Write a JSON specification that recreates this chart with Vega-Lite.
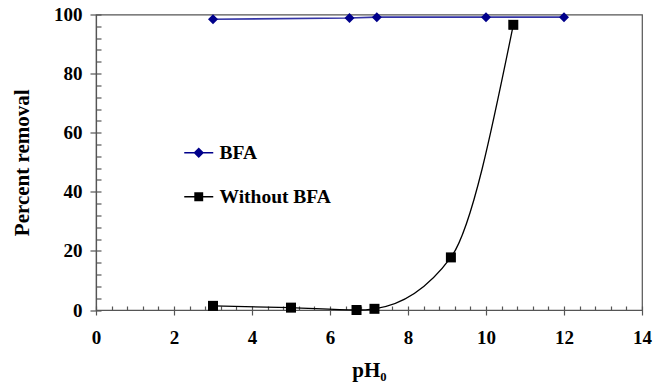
{
  "$schema": "https://vega.github.io/schema/vega-lite/v6.json",
  "width": 546,
  "height": 295.5,
  "autosize": "none",
  "padding": {"left": 96, "top": 14.5, "right": 21, "bottom": 74},
  "background": "white",
  "config": {
    "font": "Liberation Serif",
    "view": {"stroke": "#555555", "strokeWidth": 1.2},
    "axis": {
      "domainColor": "#555555", "tickColor": "#555555", "domainWidth": 1.2, "tickWidth": 1.2,
      "grid": true, "gridColor": "#555555", "gridWidth": 1.2, "gridOpacity": 1
    }
  },
  "data": {
    "values": [
      {"series": "BFA", "ph": 3.0, "removal": 98.4},
      {"series": "BFA", "ph": 6.5, "removal": 98.8},
      {"series": "BFA", "ph": 7.2, "removal": 99.1},
      {"series": "BFA", "ph": 10.0, "removal": 99.1},
      {"series": "BFA", "ph": 12.0, "removal": 99.1},
      {"series": "Without BFA", "ph": 3.0, "removal": 1.4},
      {"series": "Without BFA", "ph": 5.0, "removal": 0.8},
      {"series": "Without BFA", "ph": 6.68, "removal": 0.0},
      {"series": "Without BFA", "ph": 7.14, "removal": 0.4},
      {"series": "Without BFA", "ph": 9.1, "removal": 17.8},
      {"series": "Without BFA", "ph": 10.7, "removal": 96.5}
    ]
  },
  "encoding": {
    "x": {
      "field": "ph", "type": "quantitative",
      "scale": {"domain": [0, 14], "nice": false, "zero": false},
      "axis": {
        "orient": "bottom",
        "values": [0, 0.4, 0.8, 1.2, 1.6, 2, 2.4, 2.8, 3.2, 3.6, 4, 4.4, 4.8, 5.2, 5.6, 6, 6.4, 6.8, 7.2, 7.6, 8, 8.4, 8.8, 9.2, 9.6, 10, 10.4, 10.8, 11.2, 11.6, 12, 12.4, 12.8, 13.2, 13.6, 14],
        "labelExpr": "datum.value % 2 === 0 ? format(datum.value, 'd') : ''",
        "labelOverlap": false,
        "tickSize": 5,
        "tickOpacity": {"condition": {"test": "datum.value % 2 === 0", "value": 1}, "value": 0},
        "gridDash": [4, 291.5],
        "gridDashOffset": 4,
        "labelFont": "Liberation Serif", "labelFontSize": 19, "labelFontWeight": "bold", "labelColor": "black",
        "labelPadding": 13, "labelFlush": false,
        "title": "pH₀", "titleFont": "Liberation Serif", "titleFontSize": 21, "titleFontWeight": "bold", "titleColor": "black",
        "titlePadding": 12
      }
    },
    "y": {
      "field": "removal", "type": "quantitative",
      "scale": {"domain": [0, 100], "nice": false},
      "axis": {
        "orient": "left",
        "values": [0, 4, 8, 12, 16, 20, 24, 28, 32, 36, 40, 44, 48, 52, 56, 60, 64, 68, 72, 76, 80, 84, 88, 92, 96, 100],
        "labelExpr": "datum.value % 20 === 0 ? datum.label : ''",
        "labelOverlap": false,
        "tickSize": 6,
        "tickOpacity": {"condition": {"test": "datum.value % 20 === 0", "value": 1}, "value": 0},
        "gridDash": [5, 1000],
        "labelFont": "Liberation Serif", "labelFontSize": 19, "labelFontWeight": "bold", "labelColor": "black",
        "labelPadding": 8, "labelFlush": false,
        "title": "Percent removal", "titleFont": "Liberation Serif", "titleFontSize": 21, "titleFontWeight": "bold", "titleColor": "black",
        "titlePadding": 21
      }
    }
  },
  "layer": [
    {
      "transform": [{"filter": "datum.series === 'Without BFA'"}],
      "mark": {"type": "line", "interpolate": "monotone", "color": "black", "strokeWidth": 1.3}
    },
    {
      "transform": [{"filter": "datum.series === 'BFA'"}],
      "mark": {"type": "line", "color": "#3434a6", "strokeWidth": 1.6}
    },
    {
      "mark": {"type": "point", "filled": true, "opacity": 1, "size": 100},
      "encoding": {
        "color": {
          "field": "series", "type": "nominal",
          "scale": {"domain": ["BFA", "Without BFA"], "range": ["#00008b", "#000000"]},
          "legend": null
        },
        "shape": {
          "field": "series", "type": "nominal",
          "scale": {"domain": ["BFA", "Without BFA"], "range": ["diamond", "square"]},
          "legend": null
        }
      }
    },
    {
      "mark": {"type": "point", "filled": true, "opacity": 0, "size": 100},
      "encoding": {
        "color": {
          "field": "series", "type": "nominal",
          "scale": {"domain": ["BFA", "Without BFA"], "range": ["#00008b", "#000000"]},
          "legend": {
            "title": null, "orient": "none", "legendX": 93, "legendY": 128.5, "padding": 0, "rowPadding": 23,
            "symbolSize": 100, "symbolOpacity": 1, "symbolStrokeWidth": 1.4, "labelOffset": 11,
            "labelFont": "Liberation Serif", "labelFontSize": 19.5, "labelFontWeight": "bold", "labelColor": "black"
          }
        },
        "stroke": {
          "field": "series", "type": "nominal",
          "scale": {"domain": ["BFA", "Without BFA"], "range": ["#00008b", "#000000"]},
          "legend": {
            "title": null, "orient": "none", "legendX": 93, "legendY": 128.5, "padding": 0, "rowPadding": 23,
            "symbolSize": 100, "symbolOpacity": 1, "symbolStrokeWidth": 1.4, "labelOffset": 11,
            "labelFont": "Liberation Serif", "labelFontSize": 19.5, "labelFontWeight": "bold", "labelColor": "black"
          }
        },
        "shape": {
          "field": "series", "type": "nominal",
          "scale": {"domain": ["BFA", "Without BFA"], "range": ["M-2.9,0H2.9M0,-0.85L0.85,0L0,0.85L-0.85,0Z", "M-2.9,0H2.9M-0.75,-0.75H0.75V0.75H-0.75Z"]},
          "legend": {
            "title": null, "orient": "none", "legendX": 93, "legendY": 128.5, "padding": 0, "rowPadding": 23,
            "symbolSize": 100, "symbolOpacity": 1, "symbolStrokeWidth": 1.4, "labelOffset": 11,
            "labelFont": "Liberation Serif", "labelFontSize": 19.5, "labelFontWeight": "bold", "labelColor": "black"
          }
        }
      }
    }
  ],
  "resolve": {"scale": {"shape": "independent", "color": "independent", "stroke": "independent"}}
}
